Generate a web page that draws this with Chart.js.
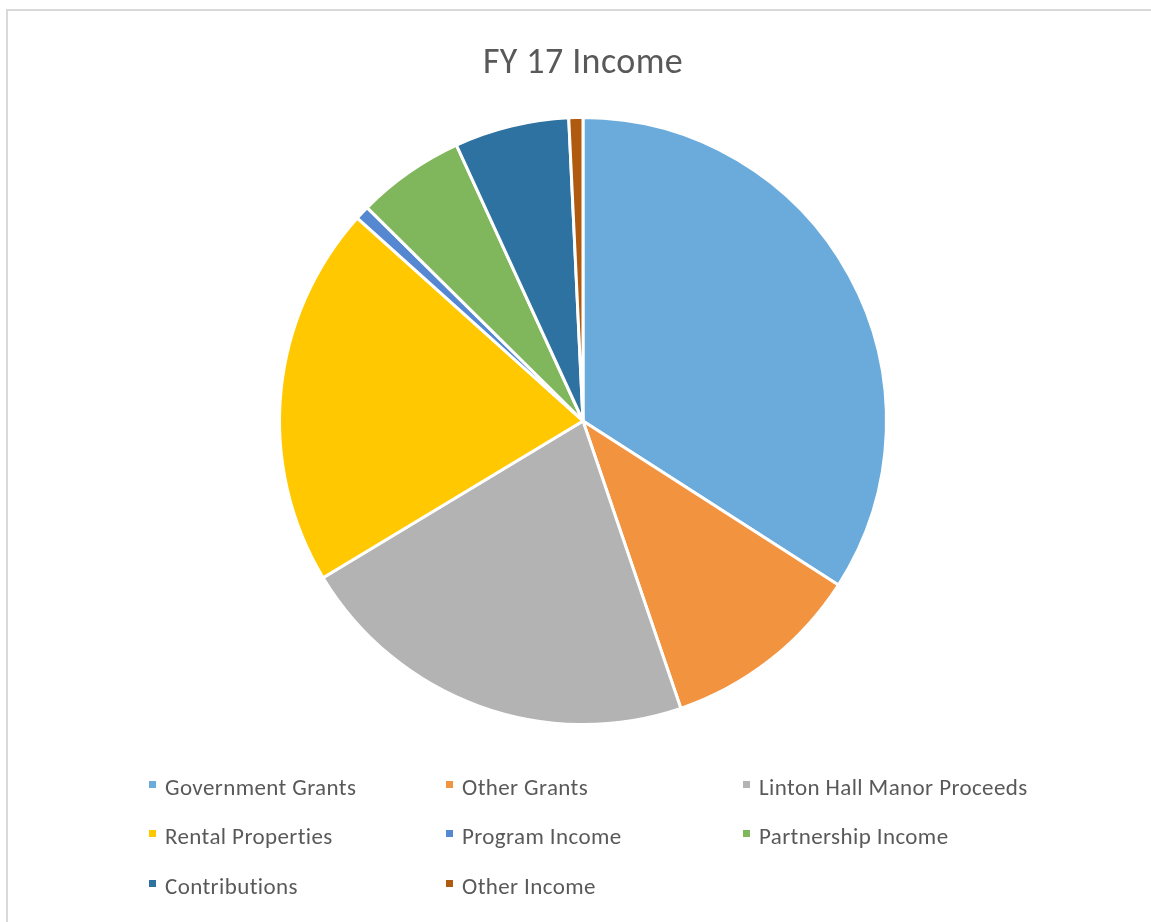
<!DOCTYPE html>
<html>
<head>
<meta charset="utf-8">
<script src="https://cdn.jsdelivr.net/npm/chart.js@4/dist/chart.umd.min.js"></script>
<style>
  html, body { margin: 0; padding: 0; background: #ffffff; }
  #wrap { width: 1151px; height: 922px; position: relative; }
  canvas { display: block; }
</style>
</head>
<body>
<div id="wrap"><canvas id="c" width="1151" height="922"></canvas></div>
<script>
const chartTitle = "FY 17 Income";
const categories = [
  "Government Grants", "Other Grants", "Linton Hall Manor Proceeds",
  "Rental Properties", "Program Income", "Partnership Income",
  "Contributions", "Other Income"
];
const shares = [34.1, 10.7, 21.6, 20.3, 0.75, 5.75, 6.1, 0.75];
const sliceColors = [
  "#6BABDB", "#F29340", "#B3B3B3", "#FFC800",
  "#5588D1", "#80B75C", "#2E72A1", "#B05A10"
];

const FONT = "Carlito, Lato, 'Open Sans', sans-serif";

const framePlugin = {
  id: 'frame',
  beforeDraw(chart) {
    const ctx = chart.ctx;
    ctx.save();
    ctx.fillStyle = '#ffffff';
    ctx.fillRect(0, 0, chart.width, chart.height);
    ctx.strokeStyle = '#D9D9D9';
    ctx.lineWidth = 2;
    ctx.beginPath();
    ctx.moveTo(7, chart.height + 5);
    ctx.lineTo(7, 10);
    ctx.lineTo(chart.width + 5, 10);
    ctx.stroke();
    ctx.restore();
    if ('letterSpacing' in ctx) ctx.letterSpacing = '0.4px';
  }
};

const gridLegendPlugin = {
  id: 'gridLegend',
  afterDraw(chart) {
    const ctx = chart.ctx;
    const labels = chart.data.labels;
    const colors = chart.data.datasets[0].backgroundColor;
    const colX = [149, 446, 743];
    const rowY = [789, 838, 888];
    ctx.save();
    ctx.font = "23px " + FONT;
    if ('letterSpacing' in ctx) ctx.letterSpacing = '0.4px';
    ctx.textBaseline = 'middle';
    ctx.textAlign = 'left';
    labels.forEach((lab, i) => {
      const col = i % 3, row = Math.floor(i / 3);
      const x = colX[col], y = rowY[row];
      ctx.fillStyle = colors[i];
      ctx.fillRect(x, y - 8, 7, 7);
      ctx.fillStyle = '#595959';
      ctx.fillText(lab, x + 16, y);
    });
    ctx.restore();
  }
};

new Chart(document.getElementById('c'), {
  type: 'pie',
  data: {
    labels: categories,
    datasets: [{
      data: shares,
      backgroundColor: sliceColors,
      borderColor: '#ffffff',
      borderWidth: 3
    }]
  },
  options: {
    responsive: false,
    animation: false,
    layout: { padding: { left: 15, right: 0, top: 0, bottom: 196 } },
    plugins: {
      legend: { display: false },
      tooltip: { enabled: false },
      title: {
        display: true,
        text: chartTitle,
        color: '#595959',
        font: { family: FONT, size: 36, weight: 'normal' },
        padding: { top: 42, bottom: 30.8 }
      }
    }
  },
  plugins: [framePlugin, gridLegendPlugin]
});
</script>
</body>
</html>
